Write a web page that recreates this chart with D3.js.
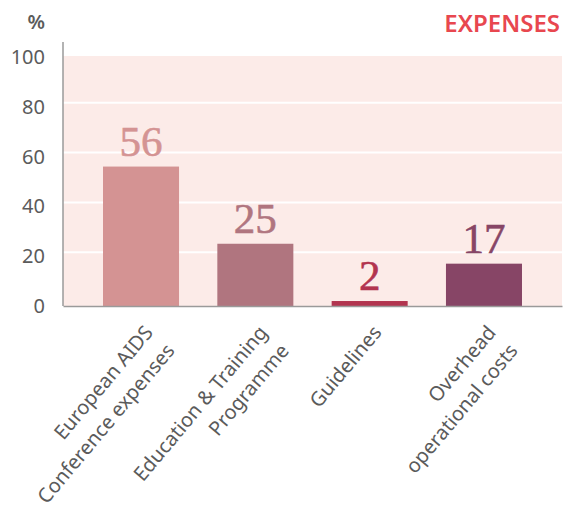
<!DOCTYPE html>
<html>
<head>
<meta charset="utf-8">
<script src="https://cdn.jsdelivr.net/npm/d3@7"></script>
<style>
  body { margin: 0; background: #fff; }
  svg { display: block; }
</style>
</head>
<body>
<div id="chart"></div>
<script>
const categories = [
  ["European AIDS", "Conference expenses"],
  ["Education & Training", "Programme"],
  ["Guidelines"],
  ["Overhead", "operational costs"]
];
const values = [56, 25, 2, 17];
const barColors = ["#d49393", "#b0757f", "#b2344f", "#874566"];
const yTicks = [0, 20, 40, 60, 80, 100];

const width = 574, height = 507;
const margin = { top: 56, right: 12, bottom: 201, left: 63 };
const sans = "'Noto Sans', sans-serif";

const svg = d3.select("#chart")
    .append("svg")
    .attr("width", width)
    .attr("height", height);

const x = d3.scaleBand()
    .domain(d3.range(values.length))
    .range([margin.left, width - margin.right])
    .paddingInner(0.335)
    .paddingOuter(0.35);

const y = d3.scaleLinear()
    .domain([0, 100])
    .range([height - margin.bottom, 57]);

// plot background
svg.append("rect")
    .attr("x", margin.left)
    .attr("y", margin.top)
    .attr("width", width - margin.right - margin.left)
    .attr("height", y(0) - margin.top)
    .attr("fill", "#fcebe8");

// white gridlines (sit a few px above the tick value, like the original)
svg.append("g")
    .selectAll("line")
    .data(yTicks.filter((d) => d > 0 && d < 100))
    .enter()
    .append("line")
    .attr("x1", margin.left)
    .attr("x2", width - margin.right)
    .attr("y1", (d) => y(d) - 4)
    .attr("y2", (d) => y(d) - 4)
    .attr("stroke", "#fff")
    .attr("stroke-width", 2);

// bars
svg.append("g")
    .selectAll("rect")
    .data(values)
    .enter()
    .append("rect")
    .attr("x", (d, i) => x(i))
    .attr("y", (d) => y(d))
    .attr("width", x.bandwidth())
    .attr("height", (d) => y(0) - y(d))
    .attr("fill", (d, i) => barColors[i]);

// value labels
svg.append("g")
    .selectAll("text")
    .data(values)
    .enter()
    .append("text")
    .attr("x", (d, i) => x(i) + x.bandwidth() / 2)
    .attr("y", (d) => y(d) - 11)
    .attr("text-anchor", "middle")
    .attr("font-family", "'Liberation Serif', serif")
    .attr("font-size", 43)
    .attr("stroke", (d, i) => barColors[i])
    .attr("stroke-width", 0.6)
    .attr("fill", (d, i) => barColors[i])
    .text((d) => d);

// y axis
const yAxis = svg.append("g")
    .attr("transform", `translate(${margin.left},0)`)
    .call(d3.axisLeft(y).tickValues(yTicks).tickSize(0).tickPadding(18));
yAxis.select(".domain").remove();
yAxis.selectAll("text")
    .attr("font-family", sans)
    .attr("font-size", 20)
    .attr("fill", "#5b5b5b");

svg.append("line")
    .attr("x1", margin.left).attr("x2", margin.left)
    .attr("y1", 42).attr("y2", y(0))
    .attr("stroke", "#9a9a9a")
    .attr("stroke-width", 1.5);

// x axis
const xAxis = svg.append("g")
    .attr("transform", `translate(0,${y(0)})`)
    .call(d3.axisBottom(x).tickSize(0).tickFormat(""));
xAxis.select(".domain")
    .attr("stroke", "#9a9a9a")
    .attr("stroke-width", 1.5);

// rotated category labels
const catLabels = svg.append("g")
    .selectAll("text")
    .data(categories)
    .enter()
    .append("text")
    .attr("transform", (d, i) => `translate(${x(i) + x.bandwidth() / 2 + 13},${y(0) + 27}) rotate(-50)`)
    .attr("text-anchor", "end")
    .attr("font-family", sans)
    .attr("font-size", 20)
    .attr("fill", "#5b5b5b");

catLabels.selectAll("tspan")
    .data((d) => d)
    .enter()
    .append("tspan")
    .attr("x", 0)
    .attr("dy", (d, i) => i === 0 ? 0 : "1.42em")
    .text((d) => d);

// unit label
svg.append("text")
    .attr("x", 45)
    .attr("y", 29)
    .attr("text-anchor", "end")
    .attr("font-family", sans)
    .attr("font-weight", 600)
    .attr("font-size", 20)
    .attr("fill", "#5b5b5b")
    .text("%");

// title
svg.append("text")
    .attr("x", 560)
    .attr("y", 32)
    .attr("text-anchor", "end")
    .attr("font-family", sans)
    .attr("font-weight", 600)
    .attr("font-size", 24)
    .attr("fill", "#e8474f")
    .text("EXPENSES");
</script>
</body>
</html>
